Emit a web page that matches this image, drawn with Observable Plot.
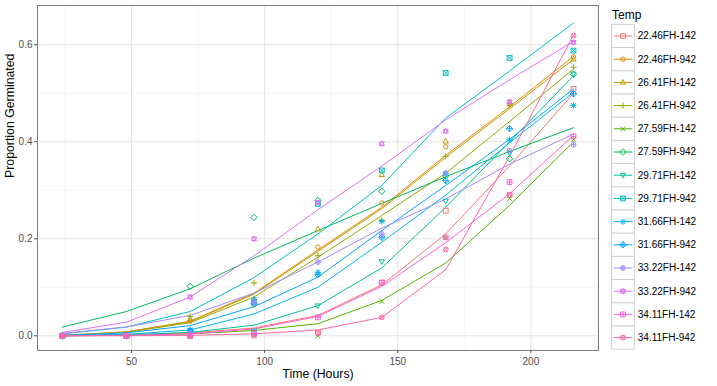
<!DOCTYPE html>
<html>
<head>
<meta charset="utf-8">
<script src="https://cdn.jsdelivr.net/npm/d3@7"></script>
<script src="https://cdn.jsdelivr.net/npm/@observablehq/plot@0.6"></script>
<style>
  html, body { margin: 0; padding: 0; background: #fff; }
  #wrap { position: relative; width: 717px; height: 386px; font-family: "Liberation Sans", Arial, sans-serif; }
  #legend { position: absolute; left: 600px; top: 0; }
</style>
</head>
<body>
<div id="wrap"><div id="chart"></div><svg id="legend" width="117" height="386"></svg></div>
<script>
// ---- data ----
const times = [24, 48, 72, 96, 120, 144, 168, 192, 216];
const series = ["22.46FH-142","22.46FH-942","26.41FH-142","26.41FH-942","27.59FH-142","27.59FH-942","29.71FH-142","29.71FH-942","31.66FH-142","31.66FH-942","33.22FH-142","33.22FH-942","34.11FH-142","34.11FH-942"];
const colors = ["#F8766D","#E38900","#C49A00","#99A800","#53B400","#00BC56","#00C094","#00BFC4","#00B6EB","#06A4FF","#A58AFF","#DF70F8","#FB61D7","#FF66A8"];
// observed proportions (points), one row per series, columns = times
const observed = [
  [0, 0, 0,     0.005, 0.007, 0.110, 0.258, 0.290, 0.509],
  [0, 0, 0.030, 0.064, 0.183, 0.274, 0.390, 0.477, 0.575],
  [0, 0, 0.035, 0.075, 0.220, 0.332, 0.401, 0.482, 0.570],
  [0, 0, 0.040, 0.109, 0.165, 0.238, 0.370, 0.475, 0.554],
  [0, 0, 0,     0,     0,     0.071, 0.202, 0.283, 0.405],
  [0, 0, 0.102, 0.244, 0.279, 0.298, 0.330, 0.365, 0.539],
  [0, 0, 0,     0.010, 0.062, 0.153, 0.278, 0.377, 0.540],
  [0, 0, 0.010, 0.070, 0.272, 0.341, 0.542, 0.573, 0.588],
  [0, 0, 0.012, 0.075, 0.131, 0.236, 0.335, 0.404, 0.475],
  [0, 0, 0.010, 0.066, 0.126, 0.203, 0.320, 0.427, 0.499],
  [0, 0, 0.005, 0.070, 0.152, 0.210, 0.335, 0.382, 0.394],
  [0, 0, 0.080, 0.200, 0.275, 0.396, 0.422, 0.482, 0.605],
  [0, 0, 0,     0.005, 0.038, 0.109, 0.203, 0.317, 0.411],
  [0, 0, 0,     0,     0.005, 0.038, 0.178, 0.291, 0.619]
];
// fitted curves (lines)
const fitted = [
  [0,     0.002, 0.006, 0.016, 0.042, 0.105, 0.210, 0.350, 0.500],
  [0.001, 0.008, 0.030, 0.088, 0.177, 0.265, 0.372, 0.472, 0.576],
  [0.001, 0.008, 0.029, 0.086, 0.174, 0.262, 0.368, 0.468, 0.570],
  [0.001, 0.007, 0.027, 0.080, 0.162, 0.248, 0.335, 0.442, 0.550],
  [0,     0.001, 0.004, 0.011, 0.025, 0.073, 0.150, 0.269, 0.400],
  [0.018, 0.050, 0.097, 0.160, 0.217, 0.273, 0.328, 0.380, 0.429],
  [0,     0.002, 0.007, 0.022, 0.062, 0.140, 0.265, 0.400, 0.536],
  [0.004, 0.018, 0.050, 0.120, 0.210, 0.310, 0.449, 0.546, 0.645],
  [0,     0.003, 0.012, 0.045, 0.100, 0.193, 0.290, 0.398, 0.502],
  [0.001, 0.006, 0.021, 0.060, 0.121, 0.217, 0.310, 0.405, 0.509],
  [0.005, 0.018, 0.042, 0.088, 0.152, 0.222, 0.282, 0.354, 0.416],
  [0.007, 0.028, 0.080, 0.165, 0.260, 0.350, 0.445, 0.528, 0.607],
  [0,     0.001, 0.004, 0.014, 0.040, 0.102, 0.192, 0.293, 0.413],
  [0,     0,     0.001, 0.004, 0.012, 0.038, 0.136, 0.370, 0.620]
];
const xTicks = [50, 100, 150, 200];
const yTicks = [0, 0.2, 0.4, 0.6];

// ---- ggplot-like shapes 0..13 as custom symbols ----
const R = s => Math.sqrt(s / Math.PI);
function sq(c, r) { c.moveTo(-r, -r); c.lineTo(r, -r); c.lineTo(r, r); c.lineTo(-r, r); c.closePath(); }
function circ(c, r) { c.moveTo(r, 0); c.arc(0, 0, r, 0, 2 * Math.PI); }
function plus(c, r) { c.moveTo(-r, 0); c.lineTo(r, 0); c.moveTo(0, -r); c.lineTo(0, r); }
function cross(c, r) { c.moveTo(-r, -r); c.lineTo(r, r); c.moveTo(-r, r); c.lineTo(r, -r); }
function triUp(c, r) { c.moveTo(0, -r * 1.15); c.lineTo(r * 1.1, r * 0.75); c.lineTo(-r * 1.1, r * 0.75); c.closePath(); }
function triDn(c, r) { c.moveTo(0, r * 1.15); c.lineTo(r * 1.1, -r * 0.75); c.lineTo(-r * 1.1, -r * 0.75); c.closePath(); }
function diam(c, r) { c.moveTo(0, -r * 1.35); c.lineTo(r * 1.35, 0); c.lineTo(0, r * 1.35); c.lineTo(-r * 1.35, 0); c.closePath(); }
const shapes = [
  {draw(c, s) { sq(c, R(s)); }},
  {draw(c, s) { circ(c, R(s) * 0.9); }},
  {draw(c, s) { triUp(c, R(s)); }},
  {draw(c, s) { plus(c, R(s) * 1.3); }},
  {draw(c, s) { cross(c, R(s)); }},
  {draw(c, s) { diam(c, R(s)); }},
  {draw(c, s) { triDn(c, R(s)); }},
  {draw(c, s) { const r = R(s); sq(c, r); cross(c, r); }},
  {draw(c, s) { const r = R(s); plus(c, r * 1.3); cross(c, r); }},
  {draw(c, s) { const r = R(s); diam(c, r); plus(c, r * 1.35); }},
  {draw(c, s) { const r = R(s); circ(c, r); plus(c, r); }},
  {draw(c, s) { const r = R(s); triUp(c, r); triDn(c, r); }},
  {draw(c, s) { const r = R(s); sq(c, r); plus(c, r); }},
  {draw(c, s) { const r = R(s); circ(c, r); cross(c, r * 0.72); }}
];

// ---- tidy rows ----
const rows = series.flatMap((s, i) => times.map((t, j) => ({series: s, time: t, obs: observed[i][j], fit: fitted[i][j]})));

const font = "'Liberation Sans', Arial, sans-serif";
const dotMarks = series.map((s, i) => Plot.dot(rows.filter(d => d.series === s), {
  x: "time", y: "obs", stroke: "series", symbol: shapes[i], r: 2.4, fill: "none", strokeWidth: 1
}));

const chart = Plot.plot({
  width: 600,
  height: 386,
  marginLeft: 37,
  marginRight: 2,
  marginTop: 5,
  marginBottom: 36,
  style: {fontFamily: font, fontSize: "10px", background: "white"},
  x: {domain: [14.66, 225.4]},
  y: {domain: [-0.0303, 0.681]},
  color: {domain: series, range: colors},
  marks: [
    Plot.gridX([25, 75, 125, 175, 225], {stroke: "#F2F2F2", strokeOpacity: 1, strokeWidth: 0.8}),
    Plot.gridY([0.1, 0.3, 0.5], {stroke: "#F2F2F2", strokeOpacity: 1, strokeWidth: 0.8}),
    Plot.gridX(xTicks, {stroke: "#E5E5E5", strokeOpacity: 1, strokeWidth: 1.1}),
    Plot.gridY(yTicks, {stroke: "#E5E5E5", strokeOpacity: 1, strokeWidth: 1.1}),
    Plot.line(rows, {x: "time", y: "fit", z: "series", stroke: "series", strokeWidth: 1}),
    ...dotMarks,
    Plot.frame({stroke: "#7F7F7F", strokeWidth: 1}),
    Plot.axisX(xTicks, {tickFormat: d => String(d), tickSize: 3, tickPadding: 4, color: "#4D4D4D", fontSize: "10px", label: null}),
    Plot.axisY(yTicks, {tickFormat: d3.format(".1f"), tickSize: 3, tickPadding: 2, color: "#4D4D4D", fontSize: "10px", label: null}),
    Plot.text(["Time (Hours)"], {frameAnchor: "bottom", dy: 27, fontSize: "12.3px", fill: "black"}),
    Plot.text(["Proportion Germinated"], {frameAnchor: "left", dx: -27, rotate: -90, fontSize: "12.3px", fill: "black"})
  ]
});
document.getElementById("chart").appendChild(chart);

// ---- legend ----
const lg = d3.select("#legend").style("font-family", font);
lg.append("text").attr("x", 12).attr("y", 15).attr("dy", "0.35em").attr("font-size", "12px").attr("fill", "black").text("Temp");
const keyH = 23.2, keyTop = 24.4, keyX = 11.7, keyW = 22.6;
series.forEach((s, i) => {
  const g = lg.append("g").attr("transform", `translate(${keyX},${keyTop + i * keyH})`);
  g.append("rect").attr("x", 0).attr("y", 0).attr("width", keyW).attr("height", keyH)
    .attr("fill", "white").attr("stroke", "#D0D0D0").attr("stroke-width", 1);
  g.append("line").attr("x1", 2).attr("x2", keyW - 2).attr("y1", keyH / 2).attr("y2", keyH / 2)
    .attr("stroke", colors[i]).attr("stroke-width", 1);
  g.append("path").attr("transform", `translate(${keyW / 2},${keyH / 2})`)
    .attr("d", d3.symbol(shapes[i], Math.PI * 2.4 * 2.4)())
    .attr("fill", "none").attr("stroke", colors[i]).attr("stroke-width", 1);
  g.append("text").attr("x", keyW + 3.5).attr("y", keyH / 2).attr("dy", "0.35em")
    .attr("font-size", "10px").attr("fill", "black").text(s);
});
</script>
</body>
</html>
